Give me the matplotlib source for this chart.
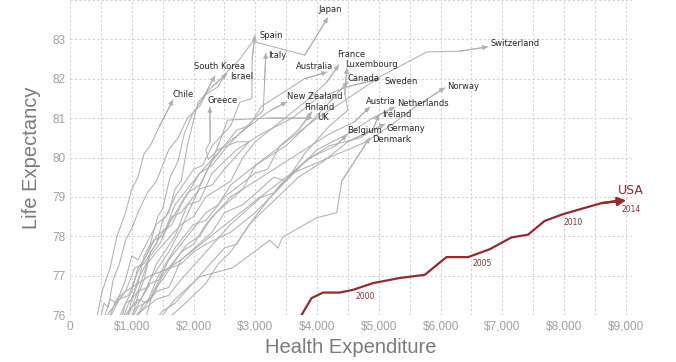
import matplotlib
matplotlib.use('Agg')
import matplotlib.pyplot as plt

# ---------------------------------------------
# Data: (health expenditure per capita $, life expectancy)
japan = [(450, 75.6), (550, 76.3), (620, 76.2), (700, 76.9), (800, 77.3), (900, 77.9), (1000, 78.2),
         (1100, 78.6), (1250, 79.1), (1400, 79.4), (1600, 80.2), (1750, 80.5), (1900, 81.0), (2100, 81.3),
         (2200, 81.6), (2400, 81.8), (2500, 82.1), (2750, 82.5), (2960, 82.95), (3800, 82.6), (4175, 83.55)]
spain = [(500, 75.7), (650, 76.4), (750, 76.3), (900, 76.9), (1000, 77.5), (1100, 77.4), (1400, 78.3),
         (1550, 78.5), (1700, 79.0), (2000, 79.7), (2150, 79.8), (2300, 80.3), (2600, 80.8), (2750, 81.4),
         (2945, 81.5), (2950, 82.5), (2993, 83.1)]
italy = [(600, 75.8), (750, 76.4), (900, 76.6), (1050, 77.2), (1200, 77.3), (1500, 78.1), (1650, 78.3),
         (1800, 78.8), (2100, 79.6), (2300, 79.8), (2500, 80.2), (2800, 80.7), (3130, 81.2), (3150, 81.9),
         (3171, 82.65)]
south_korea = [(900, 75.7), (1000, 76.4), (1100, 76.8), (1200, 77.5), (1300, 77.8), (1420, 78.5),
               (1500, 78.7), (1620, 79.5), (1748, 79.9), (1850, 80.6), (1974, 81.08), (2150, 81.5), (2346, 82.07)]
israel = [(1000, 75.9), (1100, 76.5), (1200, 76.9), (1300, 77.6), (1400, 77.8), (1500, 78.4), (1600, 78.6),
          (1700, 79.2), (1800, 79.4), (1900, 80.3), (2071, 81.4), (2300, 81.8), (2540, 82.12)]
chile = [(430, 75.9), (520, 76.6), (650, 77.2), (760, 78.0), (900, 78.6), (1000, 79.2), (1100, 79.5),
         (1200, 80.1), (1300, 80.3), (1450, 80.8), (1667, 81.46)]
greece = [(800, 75.7), (900, 76.3), (1000, 76.6), (1100, 77.2), (1200, 77.4), (1350, 77.9), (1500, 78.0),
          (1650, 78.5), (1800, 78.6), (2100, 79.2), (2300, 79.3), (2500, 79.7), (2900, 80.4), (2700, 80.4),
          (2400, 80.2), (2240, 79.95), (2200, 80.2), (2270, 80.4), (2265, 81.28)]
australia = [(700, 75.6), (900, 76.3), (1000, 76.4), (1100, 76.9), (1300, 77.5), (1450, 77.8), (1600, 78.3),
             (1900, 79.1), (2100, 79.3), (2300, 79.9), (2700, 80.7), (2900, 80.8), (3100, 81.3), (3500, 81.7),
             (3800, 82.0), (4158, 82.17)]
france = [(800, 75.7), (950, 76.3), (1100, 76.6), (1250, 77.3), (1400, 77.6), (1800, 78.3), (2000, 78.5),
          (2200, 79.0), (2600, 79.4), (2800, 80.0), (3000, 80.4), (3400, 80.9), (3800, 81.4), (4150, 81.9),
          (4352, 82.35)]
luxembourg = [(900, 75.6), (1100, 76.2), (1300, 76.4), (1500, 77.1), (1800, 77.4), (2300, 78.1), (2500, 78.6),
              (2800, 78.8), (3300, 79.5), (3500, 79.4), (3800, 80.1), (4200, 80.8), (4500, 81.2), (4450, 81.6),
              (4482, 82.27)]
canada = [(1000, 76.0), (1300, 76.8), (1450, 76.9), (1600, 77.4), (1900, 78.0), (2200, 78.6), (2400, 78.8),
          (2600, 79.3), (3000, 79.8), (3500, 80.3), (3900, 80.9), (4200, 81.4), (4498, 81.92)]
sweden = [(900, 75.8), (1100, 76.6), (1250, 76.7), (1400, 77.3), (1700, 78.0), (1900, 78.8), (2100, 78.9),
          (2300, 79.6), (2700, 80.2), (3100, 80.6), (3600, 81.0), (4000, 81.5), (4500, 81.8), (5016, 82.0)]
switzerland = [(1200, 75.8), (1350, 76.6), (1500, 76.9), (1800, 77.6), (2000, 77.8), (2200, 78.3), (2600, 79.0),
               (2800, 79.2), (3000, 79.8), (3500, 80.4), (4000, 81.0), (4500, 81.5), (5016, 82.05),
               (5776, 82.68), (6310, 82.7), (6763, 82.81)]
norway = [(1000, 75.9), (1400, 76.4), (1600, 76.5), (1800, 76.9), (2200, 77.6), (2600, 78.3), (3100, 79.0),
          (3300, 79.1), (3600, 79.6), (4200, 80.0), (4800, 80.4), (5178, 80.8), (5600, 81.3), (6068, 81.77)]
new_zealand = [(600, 75.8), (800, 76.4), (950, 76.5), (1100, 77.1), (1400, 78.0), (1550, 78.2), (1700, 78.8),
               (2100, 79.6), (2500, 80.3), (2900, 80.8), (3250, 81.2), (3511, 81.41)]
finland = [(800, 75.8), (1100, 76.4), (1250, 76.3), (1400, 76.9), (1700, 77.7), (2000, 78.3), (2200, 78.4),
           (2500, 79.0), (3000, 79.6), (3200, 79.7), (3400, 80.3), (3700, 80.7), (3916, 81.16)]
uk = [(700, 75.6), (1000, 76.2), (1150, 76.4), (1300, 76.9), (1600, 77.6), (1800, 78.2), (2000, 78.9),
      (2200, 79.6), (2400, 80.3), (2550, 80.95), (3200, 81.0), (3916, 81.0)]
austria = [(900, 75.5), (1200, 76.3), (1350, 76.5), (1500, 77.0), (1900, 77.8), (2100, 78.0), (2300, 78.5),
           (2800, 79.2), (3300, 79.7), (3800, 80.2), (4200, 80.6), (4600, 80.9), (4854, 81.28)]
netherlands = [(600, 76.0), (900, 76.6), (1300, 77.0), (1800, 77.3), (2000, 77.6), (2200, 77.8), (2600, 78.1),
               (3000, 78.6), (3500, 79.4), (4000, 80.2), (4500, 80.6), (4900, 81.0), (5259, 81.28)]
ireland = [(1500, 75.8), (1800, 76.2), (2200, 76.8), (2400, 77.3), (2600, 77.6), (3000, 78.5), (3400, 79.3),
           (3800, 79.9), (4200, 80.3), (4700, 80.5), (4900, 80.7), (5000, 81.08)]
germany = [(1300, 75.7), (1500, 76.1), (1700, 76.3), (2100, 77.0), (2500, 77.7), (2700, 77.8), (2900, 78.3),
           (3300, 78.9), (3700, 79.5), (4100, 79.9), (4500, 80.4), (5097, 80.85)]
belgium = [(1000, 75.8), (1400, 76.6), (1600, 76.7), (1800, 77.4), (2200, 77.9), (2600, 78.4), (3000, 78.9),
           (3500, 79.5), (3900, 80.0), (4300, 80.3), (4482, 80.57)]
denmark = [(1300, 75.6), (1700, 76.4), (2100, 76.97), (2637, 77.2), (3236, 77.9), (3365, 77.7), (3446, 77.98),
           (3996, 78.47), (4320, 78.6), (4400, 79.4), (4854, 80.5)]

countries = ['Japan', 'Spain', 'Italy', 'South Korea', 'Israel', 'Chile', 'Greece', 'Australia', 'France',
             'Luxembourg', 'Canada', 'Sweden', 'Switzerland', 'Norway', 'New Zealand', 'Finland', 'UK',
             'Austria', 'Netherlands', 'Ireland', 'Germany', 'Belgium', 'Denmark']
paths = [japan, spain, italy, south_korea, israel, chile, greece, australia, france, luxembourg, canada,
         sweden, switzerland, norway, new_zealand, finland, uk, austria, netherlands, ireland, germany,
         belgium, denmark]

usa_years = list(range(1996, 2015))
usa_spend = [3720, 3911, 4099, 4369, 4584, 4907, 5339, 5744, 6095, 6445, 6796, 7147, 7416, 7686, 7982,
             8290, 8603, 8899, 9007]
usa_life = [75.92, 76.43, 76.57, 76.57, 76.64, 76.81, 76.94, 77.02, 77.47, 77.47, 77.67, 77.97, 78.04,
            78.39, 78.56, 78.70, 78.84, 78.91, 78.91]
usa_marked = [2000, 2005, 2010, 2014]

x_ticks = list(range(0, 9001, 1000))
x_labels = ['0'] + ['${:,}'.format(v) for v in x_ticks[1:]]
y_ticks = [76, 77, 78, 79, 80, 81, 82, 83]

# label offsets in pixels (dx, dy, ha) relative to the arrow tip
label_pos = {
    'Japan': (2, 8, 'center'), 'Spain': (5, 0, 'left'), 'Italy': (2, -2, 'left'),
    'South Korea': (5, 9, 'center'), 'Israel': (3, -2, 'left'), 'Chile': (0, 6, 'left'),
    'Greece': (-2, 7, 'left'), 'Australia': (-12, 6, 'center'), 'France': (-2, 10, 'left'),
    'Luxembourg': (-2, 4, 'left'), 'Canada': (0, 3, 'left'), 'Sweden': (5, -3, 'left'),
    'Switzerland': (3, 3, 'left'), 'Norway': (2, 1, 'left'), 'New Zealand': (0, 5, 'left'),
    'Finland': (7, 4, 'center'), 'UK': (5, 1, 'left'), 'Austria': (11, 6, 'center'),
    'Netherlands': (2, 4, 'left'), 'Ireland': (3, 0, 'left'), 'Germany': (2, -4, 'left'),
    'Belgium': (0, 5, 'left'), 'Denmark': (2, -2, 'left'),
}
year_pos = {2000: (2, -7), 2005: (4, -6), 2010: (1, -8), 2014: (-5, -9)}

GRAY = '#b0b0b0'
RED = '#962a2a'

# ---------------------------------------------
fig = plt.figure(figsize=(6.76, 3.62), dpi=100)
ax = fig.add_axes([70 / 676, 1 - 315 / 362, 562 / 676, 315 / 362])
ax.set_xlim(0, 9100)
ax.set_ylim(76, 84)

# grid
for gx in range(0, 9001, 500):
    ax.axvline(gx, color='#d2d2d2', lw=0.8, ls=(0, (2, 2)), zorder=0)
for gy in range(76, 85):
    ax.axhline(gy, color='#d2d2d2', lw=0.8, ls=(0, (2, 2)), zorder=0)

for name, pts in zip(countries, paths):
    xs = [p[0] for p in pts]
    ys = [p[1] for p in pts]
    ax.plot(xs, ys, color=GRAY, lw=0.75, zorder=2)
    ax.annotate('', xy=(xs[-1], ys[-1]), xytext=(xs[-2], ys[-2]),
                arrowprops=dict(arrowstyle='-|>', color=GRAY, lw=0.75, mutation_scale=7,
                                shrinkA=0, shrinkB=0), zorder=2)
    dx, dy, ha = label_pos[name]
    ax.annotate(name, xy=(xs[-1], ys[-1]), xytext=(dx, dy), textcoords='offset pixels',
                ha=ha, va='center', fontsize=6, color='#262626', family='DejaVu Sans', zorder=4)

# USA
ax.plot(usa_spend[:-1], usa_life[:-1], color=RED, lw=1.6, zorder=3, solid_capstyle='butt')
ax.annotate('', xy=(usa_spend[-1], usa_life[-1]), xytext=(usa_spend[-3], usa_life[-3]),
            arrowprops=dict(arrowstyle='-|>', color=RED, lw=1.6, mutation_scale=13,
                            shrinkA=0, shrinkB=0), zorder=3)
ax.annotate('USA', xy=(usa_spend[-1], usa_life[-1]), xytext=(5, 10), textcoords='offset pixels',
            ha='center', va='center', fontsize=9, color=RED, family='DejaVu Sans')
for yr in usa_marked:
    i = usa_years.index(yr)
    dx, dy = year_pos[yr]
    ax.annotate(str(yr), xy=(usa_spend[i], usa_life[i]), xytext=(dx, dy), textcoords='offset pixels',
                ha='left', va='center', fontsize=5.5, color='#8a3030', family='DejaVu Sans')

# axes styling
for s in ax.spines.values():
    s.set_visible(False)
ax.set_xticks(x_ticks)
ax.set_xticklabels(x_labels)
ax.set_yticks(y_ticks)
ax.tick_params(length=0, labelsize=8.5, labelcolor='#9f9f9f', pad=4)
for lbl in ax.get_xticklabels() + ax.get_yticklabels():
    lbl.set_family('Liberation Sans')
ax.tick_params(axis='y', pad=3)
ax.set_xlabel('Health Expenditure', fontsize=14.5, color='#7a7a7a', family='Liberation Sans', labelpad=4)
ax.set_ylabel('Life Expectancy', fontsize=14.5, color='#7a7a7a', family='Liberation Sans', labelpad=8)

fig.savefig('out.png', dpi=100)
